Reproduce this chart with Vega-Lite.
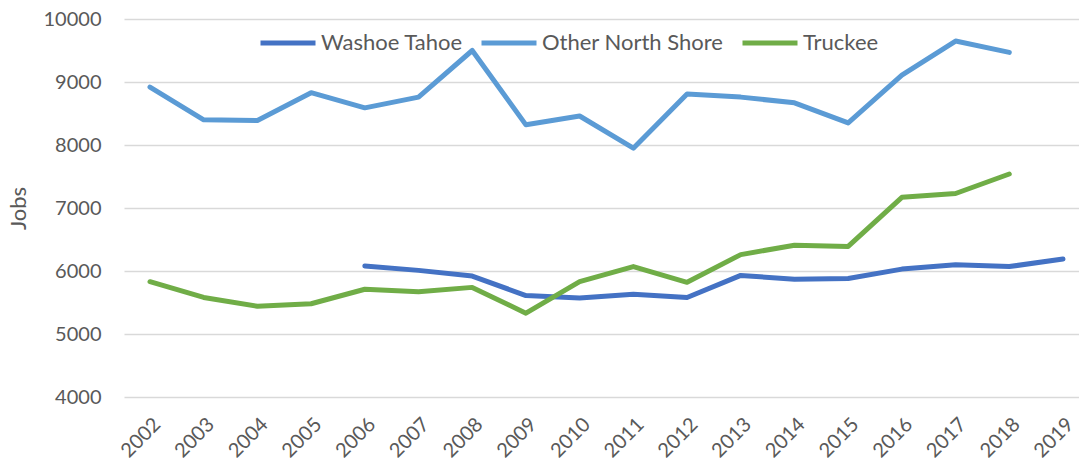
{
  "$schema": "https://vega.github.io/schema/vega-lite/v6.json",
  "width": 955,
  "height": 378,
  "autosize": {"type": "none"},
  "padding": {"left": 124, "top": 19, "right": 0, "bottom": 65},
  "background": "white",
  "config": {
    "view": {"stroke": null},
    "font": "Lato"
  },
  "data": {
    "values": [
      {"year": 2006, "series": "Washoe Tahoe", "jobs": 6080},
      {"year": 2007, "series": "Washoe Tahoe", "jobs": 6010},
      {"year": 2008, "series": "Washoe Tahoe", "jobs": 5920},
      {"year": 2009, "series": "Washoe Tahoe", "jobs": 5610},
      {"year": 2010, "series": "Washoe Tahoe", "jobs": 5570},
      {"year": 2011, "series": "Washoe Tahoe", "jobs": 5630},
      {"year": 2012, "series": "Washoe Tahoe", "jobs": 5580},
      {"year": 2013, "series": "Washoe Tahoe", "jobs": 5930},
      {"year": 2014, "series": "Washoe Tahoe", "jobs": 5870},
      {"year": 2015, "series": "Washoe Tahoe", "jobs": 5880},
      {"year": 2016, "series": "Washoe Tahoe", "jobs": 6030},
      {"year": 2017, "series": "Washoe Tahoe", "jobs": 6100},
      {"year": 2018, "series": "Washoe Tahoe", "jobs": 6070},
      {"year": 2019, "series": "Washoe Tahoe", "jobs": 6190},
      {"year": 2002, "series": "Other North Shore", "jobs": 8920},
      {"year": 2003, "series": "Other North Shore", "jobs": 8400},
      {"year": 2004, "series": "Other North Shore", "jobs": 8390},
      {"year": 2005, "series": "Other North Shore", "jobs": 8830},
      {"year": 2006, "series": "Other North Shore", "jobs": 8590},
      {"year": 2007, "series": "Other North Shore", "jobs": 8760},
      {"year": 2008, "series": "Other North Shore", "jobs": 9500},
      {"year": 2009, "series": "Other North Shore", "jobs": 8320},
      {"year": 2010, "series": "Other North Shore", "jobs": 8460},
      {"year": 2011, "series": "Other North Shore", "jobs": 7950},
      {"year": 2012, "series": "Other North Shore", "jobs": 8810},
      {"year": 2013, "series": "Other North Shore", "jobs": 8760},
      {"year": 2014, "series": "Other North Shore", "jobs": 8670},
      {"year": 2015, "series": "Other North Shore", "jobs": 8350},
      {"year": 2016, "series": "Other North Shore", "jobs": 9110},
      {"year": 2017, "series": "Other North Shore", "jobs": 9650},
      {"year": 2018, "series": "Other North Shore", "jobs": 9470},
      {"year": 2002, "series": "Truckee", "jobs": 5830},
      {"year": 2003, "series": "Truckee", "jobs": 5580},
      {"year": 2004, "series": "Truckee", "jobs": 5440},
      {"year": 2005, "series": "Truckee", "jobs": 5480},
      {"year": 2006, "series": "Truckee", "jobs": 5710},
      {"year": 2007, "series": "Truckee", "jobs": 5670},
      {"year": 2008, "series": "Truckee", "jobs": 5740},
      {"year": 2009, "series": "Truckee", "jobs": 5330},
      {"year": 2010, "series": "Truckee", "jobs": 5830},
      {"year": 2011, "series": "Truckee", "jobs": 6070},
      {"year": 2012, "series": "Truckee", "jobs": 5820},
      {"year": 2013, "series": "Truckee", "jobs": 6260},
      {"year": 2014, "series": "Truckee", "jobs": 6410},
      {"year": 2015, "series": "Truckee", "jobs": 6390},
      {"year": 2016, "series": "Truckee", "jobs": 7170},
      {"year": 2017, "series": "Truckee", "jobs": 7230},
      {"year": 2018, "series": "Truckee", "jobs": 7540}
    ]
  },
  "mark": {"type": "line", "strokeWidth": 5, "strokeCap": "round", "strokeJoin": "round", "clip": false},
  "encoding": {
    "x": {
      "field": "year",
      "type": "quantitative",
      "scale": {"domain": [2001.516, 2019.298], "nice": false, "zero": false},
      "axis": {
        "title": null,
        "values": [2002, 2003, 2004, 2005, 2006, 2007, 2008, 2009, 2010, 2011, 2012, 2013, 2014, 2015, 2016, 2017, 2018, 2019],
        "format": "d",
        "grid": false,
        "ticks": false,
        "domain": false,
        "labelAngle": -45,
        "labelFontSize": 20,
        "labelColor": "#595959",
        "labelPadding": 17,
        "labelFlush": false,
        "labelOverlap": false
      }
    },
    "y": {
      "field": "jobs",
      "type": "quantitative",
      "scale": {"domain": [4000, 10000], "nice": false, "zero": false},
      "axis": {
        "title": "Jobs",
        "titleFontSize": 22,
        "titleFontWeight": "normal",
        "titleColor": "#595959",
        "titlePadding": 13,
        "values": [4000, 5000, 6000, 7000, 8000, 9000, 10000],
        "format": "d",
        "grid": true,
        "gridColor": "#D9D9D9",
        "gridWidth": 1.5,
        "ticks": false,
        "domain": false,
        "labelFontSize": 20,
        "labelColor": "#595959",
        "labelPadding": 23
      }
    },
    "color": {
      "field": "series",
      "type": "nominal",
      "scale": {
        "domain": ["Washoe Tahoe", "Other North Shore", "Truckee"],
        "range": ["#4472C4", "#5B9BD5", "#70AD47"]
      },
      "legend": {
        "title": null,
        "orient": "none",
        "direction": "horizontal",
        "legendX": 134,
        "legendY": -6,
        "symbolType": "stroke",
        "symbolSize": 3025,
        "symbolStrokeWidth": 5,
        "labelFontSize": 22,
        "labelLimit": 400,
        "labelColor": "#595959",
        "labelOffset": 3,
        "columnPadding": 8
      }
    }
  }
}
